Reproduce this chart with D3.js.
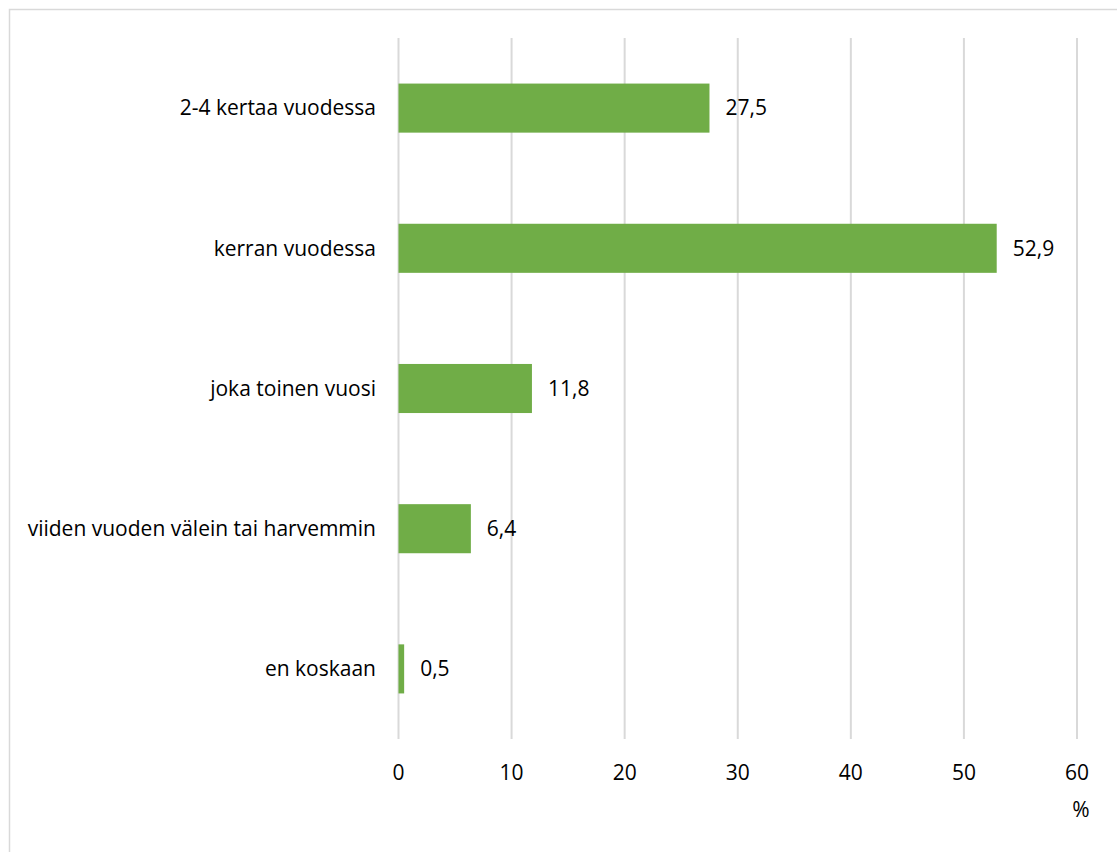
<!DOCTYPE html>
<html>
<head>
<meta charset="utf-8">
<script src="https://cdn.jsdelivr.net/npm/d3@7"></script>
<style>
  html, body { margin: 0; padding: 0; background: #fff; }
  svg { display: block; }
  text { font-family: "Open Sans", "Noto Sans", sans-serif; fill: #000; }
</style>
</head>
<body>
<svg id="chart" width="1117" height="852"></svg>
<script>
// Survey answers: how often, share of respondents (%)
const categories = [
  "2-4 kertaa vuodessa",
  "kerran vuodessa",
  "joka toinen vuosi",
  "viiden vuoden välein tai harvemmin",
  "en koskaan"
];
const values = [27.5, 52.9, 11.8, 6.4, 0.5];
const xTicks = [0, 10, 20, 30, 40, 50, 60];
const unitLabel = "%";

const fontSize = 21;
const svg = d3.select("#chart");

// outer frame
svg.append("rect")
  .attr("x", 9.5).attr("y", 9.5)
  .attr("width", 1130).attr("height", 860)
  .attr("fill", "none")
  .attr("stroke", "#d9d9d9")
  .attr("stroke-width", 1.5);

const plot = { left: 398.5, right: 1077, top: 38, bottom: 739 };

const x = d3.scaleLinear().domain([0, 60]).range([plot.left, plot.right]);
const y = d3.scaleBand().domain(categories).range([plot.top, plot.bottom]).paddingInner(0.65).paddingOuter(0.325);

// vertical gridlines
svg.append("g")
  .selectAll("line")
  .data(xTicks)
  .join("line")
  .attr("x1", d => x(d)).attr("x2", d => x(d))
  .attr("y1", plot.top).attr("y2", plot.bottom)
  .attr("stroke", "#d9d9d9")
  .attr("stroke-width", 2);

// bars
svg.append("g")
  .selectAll("rect")
  .data(values)
  .join("rect")
  .attr("x", x(0))
  .attr("y", (d, i) => y(categories[i]))
  .attr("width", d => x(d) - x(0))
  .attr("height", y.bandwidth())
  .attr("fill", "#70ad47");

// value labels
const fmt = v => d3.format(".1f")(v).replace(".", ",");
svg.append("g")
  .selectAll("text")
  .data(values)
  .join("text")
  .attr("x", d => x(d) + 16)
  .attr("y", (d, i) => y(categories[i]) + y.bandwidth() / 2)
  .attr("dy", "0.35em")
  .attr("font-size", fontSize)
  .text(d => fmt(d));

// category axis labels
svg.append("g")
  .selectAll("text")
  .data(categories)
  .join("text")
  .attr("x", 376)
  .attr("y", d => y(d) + y.bandwidth() / 2)
  .attr("dy", "0.35em")
  .attr("text-anchor", "end")
  .attr("font-size", fontSize)
  .text(d => d);

// x tick labels
svg.append("g")
  .selectAll("text")
  .data(xTicks)
  .join("text")
  .attr("x", d => x(d))
  .attr("y", 773)
  .attr("dy", "0.35em")
  .attr("text-anchor", "middle")
  .attr("font-size", fontSize)
  .text(d => d);

// unit label
svg.append("text")
  .attr("x", 1081)
  .attr("y", 810)
  .attr("dy", "0.35em")
  .attr("text-anchor", "middle")
  .attr("font-size", fontSize)
  .text(unitLabel);
</script>
</body>
</html>
